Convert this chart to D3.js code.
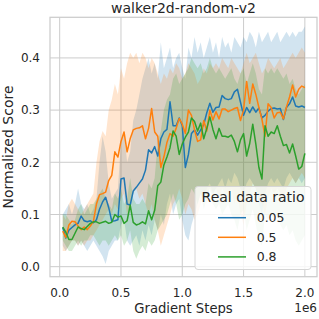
<!DOCTYPE html>
<html>
<head>
<meta charset="utf-8">
<script src="https://cdn.jsdelivr.net/npm/d3@7"></script>
<style>
  html, body { margin: 0; padding: 0; background: #fff; }
  svg text { font-family: "DejaVu Sans", sans-serif; fill: #262626; }
</style>
</head>
<body>
<script>
// gradient steps (x), one point every 25k steps
var steps = d3.range(1, 81).map(function(i){ return i * 25000; });

var ratios = ["0.05", "0.5", "0.8"];
var colors = ["#1f77b4", "#ff7f0e", "#2ca02c"];

var xTicks = [0, 500000, 1000000, 1500000, 2000000];
var xTickLabels = ["0.0", "0.5", "1.0", "1.5", "2.0"];
var yTicks = [0, 0.1, 0.2, 0.3, 0.4];
var yTickLabels = ["0.0", "0.1", "0.2", "0.3", "0.4"];

// mean curves
var mean005 = [0.075,0.055,0.07,0.075,0.08,0.083,0.097,0.088,0.086,0.088,
  0.084,0.09,0.11,0.124,0.133,0.113,0.087,0.088,0.09,0.168,
  0.17,0.12,0.118,0.145,0.152,0.16,0.168,0.185,0.224,0.218,
  0.23,0.212,0.245,0.258,0.263,0.316,0.27,0.27,0.285,0.27,
  0.19,0.215,0.255,0.262,0.252,0.262,0.272,0.295,0.313,0.296,
  0.305,0.306,0.328,0.322,0.32,0.322,0.335,0.34,0.315,0.29,
  0.305,0.295,0.306,0.296,0.304,0.285,0.29,0.298,0.303,0.304,
  0.302,0.303,0.282,0.305,0.312,0.325,0.308,0.306,0.308,0.305];
var mean05 = [0.068,0.056,0.08,0.087,0.086,0.078,0.071,0.076,0.071,0.078,
  0.087,0.12,0.138,0.14,0.143,0.165,0.175,0.22,0.21,0.24,
  0.258,0.22,0.245,0.262,0.265,0.266,0.27,0.245,0.265,0.303,
  0.258,0.25,0.19,0.21,0.238,0.255,0.25,0.265,0.284,0.273,
  0.255,0.3,0.29,0.262,0.24,0.243,0.28,0.26,0.3,0.281,
  0.297,0.283,0.302,0.302,0.297,0.3,0.303,0.305,0.28,0.3,
  0.355,0.313,0.35,0.33,0.305,0.282,0.25,0.312,0.305,0.285,
  0.295,0.296,0.283,0.306,0.325,0.348,0.325,0.34,0.346,0.343];
var mean08 = [0.076,0.066,0.052,0.052,0.064,0.076,0.073,0.071,0.077,0.083,
  0.086,0.086,0.083,0.085,0.087,0.083,0.085,0.1,0.095,0.097,
  0.083,0.088,0.118,0.085,0.08,0.082,0.086,0.082,0.107,0.09,
  0.108,0.155,0.162,0.195,0.21,0.228,0.26,0.25,0.215,0.235,
  0.248,0.258,0.285,0.278,0.26,0.275,0.245,0.265,0.287,0.263,
  0.245,0.265,0.25,0.25,0.248,0.252,0.24,0.22,0.243,0.255,
  0.212,0.236,0.273,0.235,0.19,0.168,0.27,0.25,0.258,0.255,
  0.27,0.25,0.232,0.234,0.218,0.235,0.212,0.187,0.192,0.217];

// shaded spread, lower and upper edges
var lo005 = [0.04,0.03,0.04,0.05,0.05,0.04,0.05,0.04,0.03,0.04,
  0.05,0.04,0.03,0.02,0.005,0.03,0.04,0.05,0.05,0.08,
  0.09,0.05,0.04,0.05,0.06,0.04,0.07,0.05,0.08,0.06,
  0.09,0.07,0.1,0.08,0.12,0.14,0.1,0.12,0.13,0.09,
  0.06,0.05,0.08,0.1,0.12,0.14,0.13,0.15,0.16,0.14,
  0.15,0.16,0.17,0.15,0.17,0.16,0.18,0.17,0.15,0.14,
  0.16,0.17,0.16,0.15,0.12,0.1,0.14,0.16,0.17,0.16,
  0.17,0.16,0.15,0.17,0.18,0.17,0.16,0.17,0.16,0.17];
var hi005 = [0.10,0.11,0.12,0.10,0.12,0.15,0.12,0.11,0.12,0.10,
  0.11,0.13,0.20,0.25,0.22,0.16,0.13,0.14,0.15,0.24,
  0.26,0.20,0.22,0.28,0.30,0.33,0.36,0.38,0.40,0.37,
  0.39,0.36,0.43,0.38,0.40,0.42,0.38,0.40,0.41,0.38,
  0.36,0.42,0.40,0.44,0.41,0.43,0.40,0.42,0.44,0.41,
  0.43,0.40,0.44,0.42,0.43,0.41,0.44,0.43,0.42,0.44,
  0.43,0.45,0.44,0.42,0.45,0.43,0.44,0.45,0.43,0.44,
  0.45,0.43,0.44,0.45,0.44,0.45,0.44,0.45,0.45,0.46];
var lo05 = [0.03,0.03,0.04,0.05,0.05,0.04,0.05,0.04,0.05,0.05,
  0.06,0.07,0.08,0.09,0.1,0.11,0.1,0.12,0.11,0.13,
  0.14,0.1,0.12,0.14,0.15,0.13,0.14,0.12,0.1,0.12,
  0.09,0.07,0.04,0.06,0.08,0.1,0.12,0.13,0.15,0.13,
  0.1,0.12,0.11,0.09,0.1,0.12,0.14,0.12,0.15,0.14,
  0.15,0.13,0.15,0.14,0.13,0.15,0.12,0.14,0.1,0.08,
  0.12,0.14,0.16,0.15,0.13,0.12,0.1,0.13,0.15,0.14,
  0.15,0.14,0.13,0.15,0.16,0.17,0.16,0.17,0.18,0.17];
var hi05 = [0.1,0.09,0.12,0.13,0.12,0.11,0.1,0.11,0.12,0.13,
  0.14,0.2,0.24,0.26,0.25,0.3,0.32,0.35,0.33,0.38,
  0.36,0.39,0.41,0.40,0.41,0.39,0.41,0.40,0.38,0.40,
  0.39,0.37,0.35,0.37,0.36,0.38,0.37,0.39,0.38,0.36,
  0.37,0.39,0.38,0.37,0.35,0.36,0.38,0.37,0.39,0.38,
  0.39,0.38,0.40,0.39,0.38,0.40,0.39,0.38,0.37,0.39,
  0.41,0.39,0.40,0.41,0.39,0.37,0.38,0.40,0.39,0.38,
  0.39,0.40,0.38,0.39,0.40,0.41,0.40,0.41,0.42,0.41];
var lo08 = [0.05,0.04,0.03,0.03,0.04,0.05,0.04,0.05,0.05,0.06,
  0.06,0.05,0.04,0.05,0.05,0.04,0.05,0.06,0.05,0.06,
  0.04,0.05,0.07,0.03,0.015,0.03,0.04,0.03,0.05,0.04,
  0.05,0.07,0.08,0.09,0.1,0.12,0.14,0.12,0.09,0.1,
  0.12,0.13,0.15,0.14,0.12,0.14,0.11,0.13,0.15,0.12,
  0.11,0.12,0.1,0.11,0.12,0.1,0.09,0.07,0.1,0.11,
  0.07,0.09,0.11,0.08,0.05,0.04,0.1,0.09,0.1,0.09,
  0.1,0.08,0.07,0.08,0.06,0.07,0.05,0.04,0.05,0.06];
var hi08 = [0.1,0.1,0.09,0.08,0.09,0.11,0.12,0.1,0.11,0.12,
  0.12,0.13,0.14,0.15,0.13,0.12,0.11,0.14,0.13,0.15,
  0.12,0.13,0.17,0.13,0.12,0.12,0.13,0.12,0.16,0.15,
  0.17,0.24,0.26,0.3,0.32,0.33,0.36,0.37,0.35,0.36,
  0.37,0.38,0.40,0.39,0.38,0.39,0.37,0.38,0.40,0.38,
  0.37,0.38,0.37,0.36,0.37,0.38,0.36,0.35,0.37,0.38,
  0.35,0.37,0.39,0.37,0.34,0.33,0.38,0.37,0.38,0.37,
  0.38,0.37,0.36,0.37,0.35,0.36,0.34,0.33,0.34,0.35];

var means = [mean005, mean05, mean08];
var lows = [lo005, lo05, lo08];
var highs = [hi005, hi05, hi08];

var width = 319;
var height = 319;
// plot box (window.top is taken, so prefixed names)
var boxL = 50, boxR = 317, boxT = 17.3, boxB = 276.7;

var svg = d3.select("body")
            .append("svg")
            .attr("width", width)
            .attr("height", height);

var xScale = d3.scaleLinear()
               .domain([-79000, 2099000])
               .range([boxL, boxR]);

var yScale = d3.scaleLinear()
               .domain([-0.0192, 0.4778])
               .range([boxB, boxT]);

// grid
svg.append("g")
   .selectAll("line")
   .data(xTicks)
   .enter()
   .append("line")
   .attr("x1", function(d){ return xScale(d); })
   .attr("x2", function(d){ return xScale(d); })
   .attr("y1", boxT)
   .attr("y2", boxB)
   .attr("stroke", "#cccccc")
   .attr("stroke-width", 1);

svg.append("g")
   .selectAll("line")
   .data(yTicks)
   .enter()
   .append("line")
   .attr("x1", boxL)
   .attr("x2", boxR)
   .attr("y1", function(d){ return yScale(d); })
   .attr("y2", function(d){ return yScale(d); })
   .attr("stroke", "#cccccc")
   .attr("stroke-width", 1);

var plot = svg.append("g");

// bands first, then lines on top
means.forEach(function(m, k){
  var area = d3.area()
               .x(function(d, i){ return xScale(steps[i]); })
               .y0(function(d, i){ return yScale(lows[k][i]); })
               .y1(function(d, i){ return yScale(highs[k][i]); });
  plot.append("path")
      .datum(m)
      .attr("d", area)
      .attr("fill", colors[k])
      .attr("fill-opacity", 0.2)
      .attr("stroke", "none");
});

means.forEach(function(m, k){
  var line = d3.line()
               .x(function(d, i){ return xScale(steps[i]); })
               .y(function(d){ return yScale(d); });
  plot.append("path")
      .datum(m)
      .attr("d", line)
      .attr("fill", "none")
      .attr("stroke", colors[k])
      .attr("stroke-width", 1.5)
      .attr("stroke-linejoin", "round");
});

// frame
svg.append("rect")
   .attr("x", boxL)
   .attr("y", boxT)
   .attr("width", boxR - boxL)
   .attr("height", boxB - boxT)
   .attr("fill", "none")
   .attr("stroke", "#cccccc")
   .attr("stroke-width", 1.25);

// tick labels
svg.append("g")
   .selectAll("text")
   .data(xTicks)
   .enter()
   .append("text")
   .attr("x", function(d){ return xScale(d); })
   .attr("y", 296.7)
   .attr("text-anchor", "middle")
   .attr("font-size", 12)
   .text(function(d, i){ return xTickLabels[i]; });

svg.append("g")
   .selectAll("text")
   .data(yTicks)
   .enter()
   .append("text")
   .attr("x", 40)
   .attr("y", function(d){ return yScale(d) + 4.3; })
   .attr("text-anchor", "end")
   .attr("font-size", 12)
   .text(function(d, i){ return yTickLabels[i]; });

svg.append("text")
   .attr("x", boxR)
   .attr("y", 312)
   .attr("text-anchor", "end")
   .attr("font-size", 12)
   .text("1e6");

// axis labels and title
svg.append("text")
   .attr("x", (boxL + boxR) / 2)
   .attr("y", 312.5)
   .attr("text-anchor", "middle")
   .attr("font-size", 13.2)
   .text("Gradient Steps");

svg.append("text")
   .attr("transform", "translate(13.3," + ((boxT + boxB) / 2) + ") rotate(-90)")
   .attr("text-anchor", "middle")
   .attr("font-size", 14)
   .text("Normalized Score");

svg.append("text")
   .attr("x", (boxL + boxR) / 2)
   .attr("y", 13.3)
   .attr("text-anchor", "middle")
   .attr("font-size", 14)
   .text("walker2d-random-v2");

// legend
var legend = svg.append("g");
legend.append("rect")
      .attr("x", 195)
      .attr("y", 186.5)
      .attr("width", 116)
      .attr("height", 83)
      .attr("rx", 3)
      .attr("fill", "#ffffff")
      .attr("fill-opacity", 0.8)
      .attr("stroke", "#d6d6d6")
      .attr("stroke-width", 1);

legend.append("text")
      .attr("x", 253)
      .attr("y", 202)
      .attr("text-anchor", "middle")
      .attr("font-size", 14)
      .text("Real data ratio");

ratios.forEach(function(r, k){
  var yy = 217.7 + k * 19.6;
  legend.append("line")
        .attr("x1", 218)
        .attr("x2", 246)
        .attr("y1", yy)
        .attr("y2", yy)
        .attr("stroke", colors[k])
        .attr("stroke-width", 1.5);
  legend.append("text")
        .attr("x", 256.7)
        .attr("y", yy + 4.3)
        .attr("font-size", 12.5)
        .text(r);
});
</script>
</body>
</html>
